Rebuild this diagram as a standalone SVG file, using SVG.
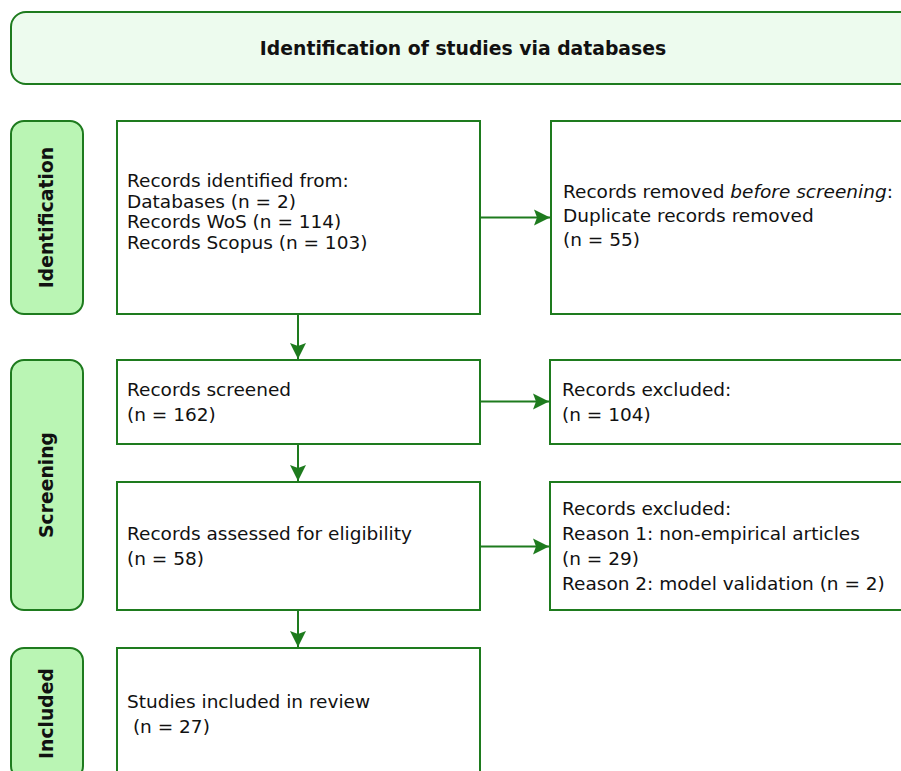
<svg xmlns="http://www.w3.org/2000/svg" width="901" height="771" viewBox="0 0 901 771">
<style>
.box{fill:#ffffff;stroke:#1e7b1e;stroke-width:2}
.side{fill:#baf5b4;stroke:#1e7b1e;stroke-width:2}
.hdr{fill:#edfbee;stroke:#1e7b1e;stroke-width:2}
.t{font-family:"DejaVu Sans","Liberation Sans",sans-serif;font-size:18.5px;fill:#111111}
.b{font-family:"DejaVu Sans","Liberation Sans",sans-serif;font-size:18.8px;font-weight:bold;fill:#111111}
.conn{stroke:#1e7b1e;stroke-width:2;fill:none}
</style>
<defs>
<marker id="arr" markerUnits="userSpaceOnUse" markerWidth="18" markerHeight="18" viewBox="0 0 18 18" refX="16" refY="9" orient="auto">
<path d="M0,1 L16,9 L0,17 L3,9 z" fill="#1e7b1e"/>
</marker>
</defs>
<g id="header">
<rect class="hdr" x="11" y="12" width="920" height="72" rx="15"/>
<text class="b" x="463" y="55" text-anchor="middle">Identification of studies via databases</text>
</g>
<g id="lbl-identification">
<rect class="side" x="11" y="121" width="72" height="193" rx="13"/>
<text class="b" transform="translate(53,217.5) rotate(-90)" text-anchor="middle">Identification</text>
</g>
<g id="lbl-screening">
<rect class="side" x="11" y="360" width="72" height="250" rx="13"/>
<text class="b" transform="translate(53,485) rotate(-90)" text-anchor="middle">Screening</text>
</g>
<g id="lbl-included">
<rect class="side" x="11" y="648" width="72" height="131" rx="13"/>
<text class="b" transform="translate(53,713.5) rotate(-90)" text-anchor="middle">Included</text>
</g>
<g id="identified">
<rect class="box" x="117" y="121" width="363" height="193"/>
<text class="t" x="127" y="186.7">Records identified from:</text>
<text class="t" x="127" y="207.5">Databases (n = 2)</text>
<text class="t" x="127" y="228.3">Records WoS (n = 114)</text>
<text class="t" x="127" y="249.1">Records Scopus (n = 103)</text>
</g>
<g id="removed">
<rect class="box" x="551" y="121" width="370" height="193"/>
<text class="t" x="563" y="198">Records removed <tspan font-style="italic">before screening</tspan>:</text>
<text class="t" x="563" y="222">Duplicate records removed</text>
<text class="t" x="563" y="246">(n = 55)</text>
</g>
<g id="screened">
<rect class="box" x="117" y="360" width="363" height="84"/>
<text class="t" x="127" y="396">Records screened</text>
<text class="t" x="127" y="421">(n = 162)</text>
</g>
<g id="excluded1">
<rect class="box" x="550" y="360" width="370" height="84"/>
<text class="t" x="562" y="396">Records excluded:</text>
<text class="t" x="562" y="421">(n = 104)</text>
</g>
<g id="assessed">
<rect class="box" x="117" y="482" width="363" height="128"/>
<text class="t" x="127" y="540">Records assessed for eligibility</text>
<text class="t" x="127" y="565">(n = 58)</text>
</g>
<g id="excluded2">
<rect class="box" x="550" y="482" width="370" height="128"/>
<text class="t" x="562" y="515">Records excluded:</text>
<text class="t" x="562" y="540">Reason 1: non-empirical articles</text>
<text class="t" x="562" y="565">(n = 29)</text>
<text class="t" x="562" y="590">Reason 2: model validation (n = 2)</text>
</g>
<g id="included">
<rect class="box" x="117" y="648" width="363" height="131"/>
<text class="t" x="127" y="708.3">Studies included in review</text>
<text class="t" x="127" y="733.3" xml:space="preserve"> (n = 27)</text>
</g>
<g id="connectors">
<line class="conn" x1="298" y1="314" x2="298" y2="359" marker-end="url(#arr)"/>
<line class="conn" x1="298" y1="444" x2="298" y2="481" marker-end="url(#arr)"/>
<line class="conn" x1="298" y1="610" x2="298" y2="647" marker-end="url(#arr)"/>
<line class="conn" x1="480" y1="217.5" x2="550" y2="217.5" marker-end="url(#arr)"/>
<line class="conn" x1="480" y1="401.5" x2="549" y2="401.5" marker-end="url(#arr)"/>
<line class="conn" x1="480" y1="546.5" x2="549" y2="546.5" marker-end="url(#arr)"/>
</g>
</svg>
